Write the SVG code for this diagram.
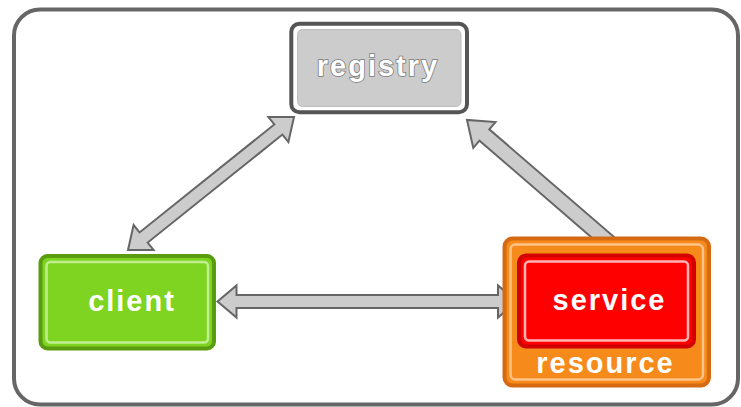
<svg xmlns="http://www.w3.org/2000/svg" width="741" height="407" viewBox="0 0 741 407">
  <style>
    .frame { fill: #ffffff; stroke: #666666; stroke-width: 4; }
    .arrow { fill: #cccccc; stroke: #666666; stroke-width: 2; stroke-linejoin: miter; }
    .label { font-family: "Liberation Sans", Arial, sans-serif; font-weight: bold; font-size: 29px; letter-spacing: 2px; fill: #ffffff; text-anchor: middle; }
    .outlined { stroke: #7a7a7a; stroke-width: 1.6; paint-order: stroke; }
  </style>

  <!-- outer frame -->
  <rect class="frame" x="14" y="9.5" width="724" height="395" rx="26"/>

  <!-- connectors -->
  <g id="connectors">
    <!-- client <-> service -->
    <polygon class="arrow" transform="translate(217.5,301.5)"
      points="0,0 19,-16 19,-6.5 280.5,-6.5 280.5,-16 299.5,0 280.5,16 280.5,6.5 19,6.5 19,16"/>
    <!-- client <-> registry -->
    <polygon class="arrow" transform="translate(128,250) rotate(-38.7)"
      points="0,0 20,-16 20,-6.5 192.7,-6.5 192.7,-16 212.7,0 192.7,16 192.7,6.5 20,6.5 20,16"/>
    <!-- service -> registry -->
    <polygon class="arrow" transform="translate(613,246) rotate(-139.2)"
      points="0,-7.5 169.9,-7.5 169.9,-17 192.9,0 169.9,17 169.9,7.5 0,7.5"/>
  </g>

  <!-- registry -->
  <g id="registry">
    <rect x="291.3" y="23.8" width="175.7" height="88.5" rx="8" fill="#ffffff" stroke="#555555" stroke-width="4"/>
    <rect x="297.5" y="29.5" width="163.5" height="77" rx="5" fill="#cccccc" stroke="#bdbdbd" stroke-width="1"/>
    <text class="label outlined" x="378" y="76">registry</text>
  </g>

  <!-- client -->
  <g id="client">
    <rect x="40.5" y="256" width="173.5" height="92.5" rx="7" fill="#7ed420" stroke="#5a9c10" stroke-width="4"/>
    <rect x="46.5" y="262" width="161.5" height="80.5" rx="4" fill="none" stroke="#c2ee92" stroke-width="2.5"/>
    <text class="label" x="132" y="310.5">client</text>
  </g>

  <!-- resource containing service -->
  <g id="resource">
    <rect x="504.5" y="238.5" width="204.5" height="147" rx="8" fill="#f68a1b" stroke="#d66a12" stroke-width="4"/>
    <rect x="510.5" y="244.5" width="192.5" height="135" rx="5" fill="none" stroke="#ffc489" stroke-width="2.5"/>
    <text class="label" x="605.5" y="373">resource</text>
  </g>

  <g id="service">
    <rect x="519" y="255.5" width="175" height="91" rx="7" fill="#ff0000" stroke="#d20000" stroke-width="4"/>
    <rect x="525" y="261.5" width="163" height="79" rx="4" fill="none" stroke="#ffb4b4" stroke-width="2.5"/>
    <text class="label" x="609.5" y="310">service</text>
  </g>
</svg>
